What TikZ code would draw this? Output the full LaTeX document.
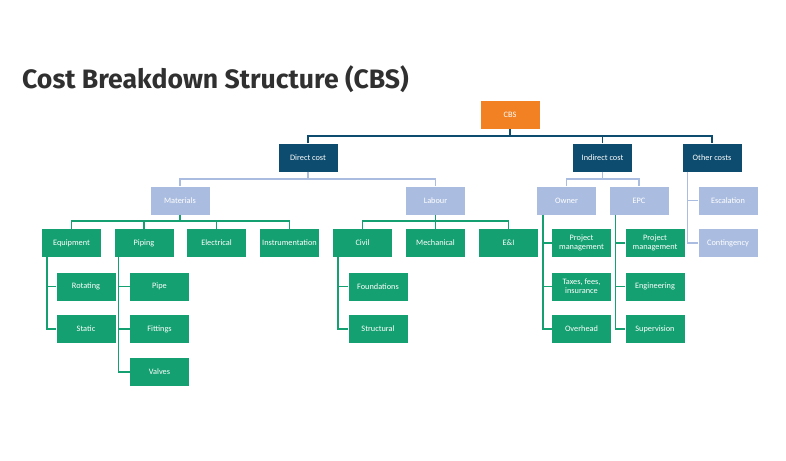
\documentclass[tikz,border=0pt]{standalone}
\usepackage{fontspec}
\setmainfont{Carlito}
\newfontfamily\titlefont{Fira Sans}
\definecolor{cbsorange}{HTML}{F28123}
\definecolor{cbsdark}{HTML}{0D4C6E}
\definecolor{cbslight}{HTML}{AABDE0}
\definecolor{cbsgreen}{HTML}{14A070}
\definecolor{titlegray}{HTML}{303030}
\tikzset{
  box/.style={minimum width=59pt,minimum height=28pt,inner sep=1pt,text=white,font=\fontsize{8.3}{9.3}\selectfont,align=center},
  orangebox/.style={box,fill=cbsorange},
  darkbox/.style={box,fill=cbsdark},
  lightbox/.style={box,fill=cbslight},
  greenbox/.style={box,fill=cbsgreen},
  darkline/.style={draw=cbsdark,line width=1.5pt},
  lightline/.style={draw=cbslight,line width=1.5pt},
  greenline/.style={draw=cbsgreen,line width=1.5pt},
}
\begin{document}
\begin{tikzpicture}[x=1pt,y=-1pt]
\useasboundingbox (0,0) rectangle (786,460);
\node[anchor=base west,inner sep=0pt,text=titlegray,font=\titlefont\bfseries\fontsize{26.6}{30}\selectfont] (title) at (22,88) {Cost Breakdown Structure (CBS)};
% level 0-1
\node[orangebox] (cbs) at (510,115) {CBS};
\node[darkbox] (dc) at (308,157.5) {Direct cost};
\node[darkbox] (ic) at (602.5,157.5) {Indirect cost};
\node[darkbox] (oc) at (712,157.5) {Other costs};
% level 2
\node[lightbox] (mat) at (180,200.5) {Materials};
\node[lightbox] (lab) at (435.5,200.5) {Labour};
\node[lightbox] (own) at (566.5,200.5) {Owner};
\node[lightbox] (epc) at (639,200.5) {EPC};
\node[lightbox] (esc) at (728,200.5) {Escalation};
\node[lightbox] (cont) at (728,243) {Contingency};
% level 3
\node[greenbox] (eq) at (71.5,243) {Equipment};
\node[greenbox] (pip) at (144,243) {Piping};
\node[greenbox] (ele) at (216.5,243) {Electrical};
\node[greenbox] (ins) at (289.5,243) {Instrumentation};
\node[greenbox] (civ) at (362.5,243) {Civil};
\node[greenbox] (mech) at (435.5,243) {Mechanical};
\node[greenbox] (ei) at (508.5,243) {E\&I};
\node[greenbox] (pm1) at (581.5,243) {Project\\management};
\node[greenbox] (pm2) at (655,243) {Project\\management};
% level 4
\node[greenbox] (rot) at (86,286.5) {Rotating};
\node[greenbox] (stat) at (86,329) {Static};
\node[greenbox] (pipe) at (159.5,286.5) {Pipe};
\node[greenbox] (fit) at (159.5,329) {Fittings};
\node[greenbox] (valv) at (159.5,372) {Valves};
\node[greenbox] (found) at (378,286.5) {Foundations};
\node[greenbox] (struc) at (378,329) {Structural};
\node[greenbox] (tax) at (581.5,286.5) {Taxes, fees,\\insurance};
\node[greenbox] (over) at (581.5,329) {Overhead};
\node[greenbox] (eng) at (655,286.5) {Engineering};
\node[greenbox] (sup) at (655,329) {Supervision};
% connectors: CBS
\coordinate (b0) at ([yshift=-7]cbs.south);
\draw[darkline] (cbs.south) -- (b0);
\draw[darkline] (dc.north) |- (b0) -| (oc.north);
\draw[darkline] (ic.north) -- (ic.north |- b0);
% Direct cost
\coordinate (b1) at ([yshift=-7.5]dc.south);
\draw[lightline] (dc.south) -- (b1);
\draw[lightline] (mat.north) |- (b1) -| (lab.north);
% Indirect cost
\coordinate (b2) at ([yshift=-7.5]ic.south);
\draw[lightline] (ic.south) -- (b2);
\draw[lightline] (own.north) |- (b2) -| (epc.north);
% Other costs
\coordinate (ocs) at ([xshift=5]oc.south west);
\draw[lightline] (ocs) |- (cont.west);
\draw[lightline] (esc.west) -- (esc.west -| ocs);
% Materials
\coordinate (b3) at ([yshift=-6.5]mat.south);
\draw[greenline] (mat.south) -- (b3);
\draw[greenline] (eq.north) |- (b3) -| (ins.north);
\draw[greenline] (pip.north) -- (pip.north |- b3);
\draw[greenline] (ele.north) -- (ele.north |- b3);
% Labour
\coordinate (b4) at ([yshift=-6.5]lab.south);
\draw[greenline] (lab.south) -- (mech.north);
\draw[greenline] (civ.north) |- (b4) -| (ei.north);
% Equipment
\coordinate (eqs) at ([xshift=5]eq.south west);
\draw[greenline] (eqs) |- (stat.west);
\draw[greenline] (rot.west) -- (rot.west -| eqs);
% Piping
\coordinate (pis) at ([xshift=4]pip.south west);
\draw[greenline] (pis) |- (valv.west);
\draw[greenline] (pipe.west) -- (pipe.west -| pis);
\draw[greenline] (fit.west) -- (fit.west -| pis);
% Civil
\coordinate (cis) at ([xshift=5]civ.south west);
\draw[greenline] (cis) |- (struc.west);
\draw[greenline] (found.west) -- (found.west -| cis);
% Owner
\coordinate (ows) at ([xshift=6]own.south west);
\draw[greenline] (ows) |- (over.west);
\draw[greenline] (pm1.west) -- (pm1.west -| ows);
\draw[greenline] (tax.west) -- (tax.west -| ows);
% EPC
\coordinate (eps) at ([xshift=6]epc.south west);
\draw[greenline] (eps) |- (sup.west);
\draw[greenline] (pm2.west) -- (pm2.west -| eps);
\draw[greenline] (eng.west) -- (eng.west -| eps);
\end{tikzpicture}
\end{document}
